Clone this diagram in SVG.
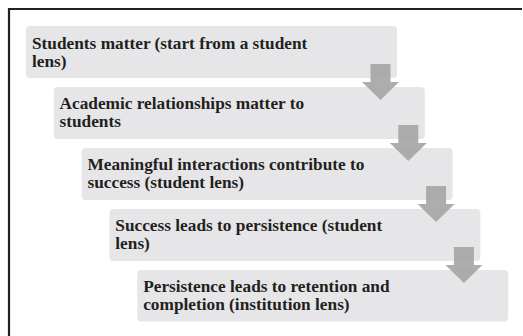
<svg xmlns="http://www.w3.org/2000/svg" width="523" height="336" viewBox="0 0 523 336">
<style>
.box{fill:#e6e6e8;}
.t{font-family:"Liberation Serif","Times New Roman",serif;font-weight:bold;font-size:17.3px;fill:#231f20;}
.arr{fill:#a6a6a6;opacity:0.92;}
</style>
<rect width="523" height="336" fill="#ffffff"/>
<path d="M9,336 V9 H522" fill="none" stroke="#231f20" stroke-width="2.2"/>
<g id="n1"><rect class="box" x="26" y="26" width="371" height="52" rx="4"/>
<text class="t" x="32" y="48.5">Students matter (start from a student</text>
<text class="t" x="32" y="66.5">lens)</text></g>
<g id="n2"><rect class="box" x="53.8" y="87" width="371" height="52" rx="4"/>
<text class="t" x="59.5" y="108.5">Academic relationships matter to</text>
<text class="t" x="59.5" y="126.5">students</text></g>
<g id="n3"><rect class="box" x="81.6" y="148" width="371" height="52" rx="4"/>
<text class="t" x="87.5" y="169.5">Meaningful interactions contribute to</text>
<text class="t" x="87.5" y="187.5">success (student lens)</text></g>
<g id="n4"><rect class="box" x="109.4" y="209" width="371" height="52" rx="4"/>
<text class="t" x="115.3" y="230.5">Success leads to persistence (student</text>
<text class="t" x="115.3" y="248.5">lens)</text></g>
<g id="n5"><rect class="box" x="137.2" y="270" width="371" height="51.5" rx="4"/>
<text class="t" x="143.2" y="291.5">Persistence leads to retention and</text>
<text class="t" x="143.2" y="309.5">completion (institution lens)</text></g>
<g id="connectors">
<path class="arr" d="M370.5,64 h20 v18 h8.5 l-18.5,18 l-18.5,-18 h8.5 z"/>
<path class="arr" d="M398.3,125 h20 v18 h8.5 l-18.5,18 l-18.5,-18 h8.5 z"/>
<path class="arr" d="M426.1,186 h20 v18 h8.5 l-18.5,18 l-18.5,-18 h8.5 z"/>
<path class="arr" d="M453.9,247 h20 v18 h8.5 l-18.5,18 l-18.5,-18 h8.5 z"/>
</g>
</svg>
